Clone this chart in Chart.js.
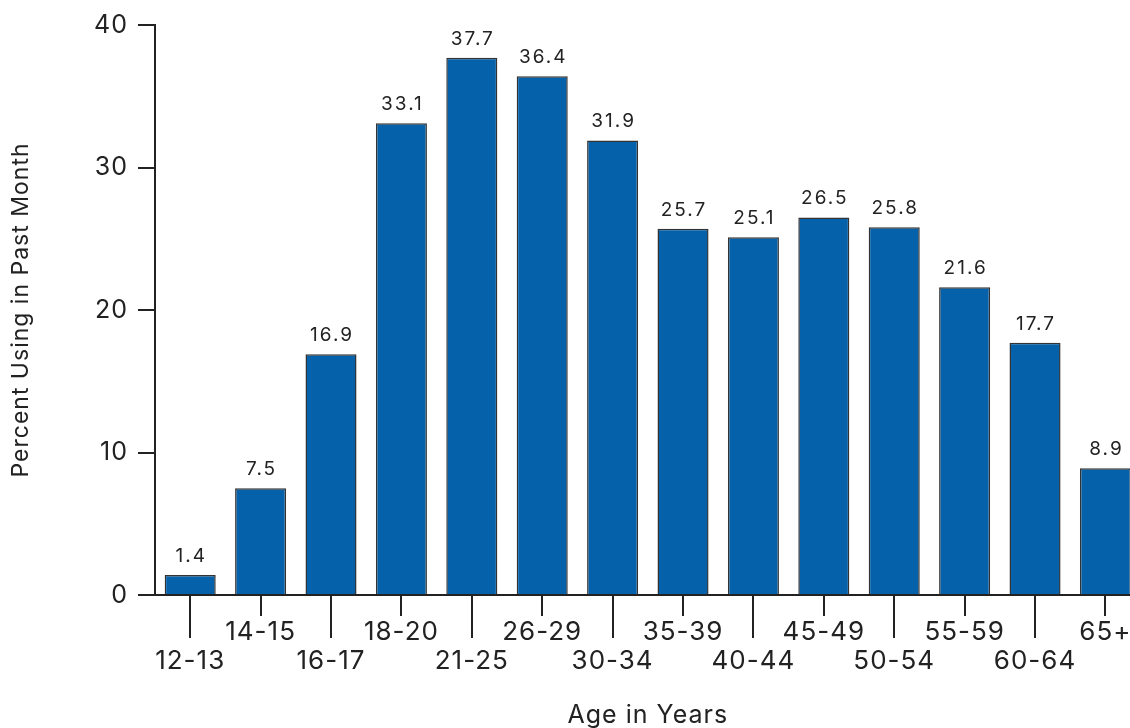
<!DOCTYPE html>
<html>
<head>
<meta charset="utf-8">
<script src="https://cdn.jsdelivr.net/npm/chart.js@4/dist/chart.umd.min.js"></script>
<style>
    html, body { margin: 0; padding: 0; background: #fff; overflow: hidden; }
    #ageChart { display: block; }
</style>
</head>
<body>
<canvas id="ageChart" width="1153" height="728"></canvas>
<script>
// age groups and percent using in past month
const ageGroups = ["12-13", "14-15", "16-17", "18-20", "21-25", "26-29", "30-34",
    "35-39", "40-44", "45-49", "50-54", "55-59", "60-64", "65+"];
const percentUsing = [1.4, 7.5, 16.9, 33.1, 37.7, 36.4, 31.9, 25.7, 25.1, 26.5, 25.8, 21.6, 17.7, 8.9];
const yTicks = [0, 10, 20, 30, 40];

const ink = "#222222";
const fontName = "Inter, 'Liberation Sans', Arial, sans-serif";

// slightly wider lettering, as in the original artwork
const spacing = {
    id: "spacing",
    beforeDraw(chart) {
        chart.ctx.letterSpacing = "1px";
    }
};

// staggered tick marks under the x axis
const staggerTicks = {
    id: "staggerTicks",
    afterDraw(chart) {
        const ctx = chart.ctx;
        const xScale = chart.scales.x;
        const bottom = chart.chartArea.bottom;
        ctx.save();
        ctx.strokeStyle = ink;
        ctx.lineWidth = 2;
        xScale.ticks.forEach((t, i) => {
            const x = Math.round(xScale.getPixelForTick(i));
            ctx.beginPath();
            ctx.moveTo(x, bottom);
            ctx.lineTo(x, bottom + (i % 2 === 0 ? 43 : 21));
            ctx.stroke();
        });
        ctx.restore();
    }
};

// value over each bar
const barValues = {
    id: "barValues",
    afterDatasetsDraw(chart) {
        const ctx = chart.ctx;
        const meta = chart.getDatasetMeta(0);
        ctx.save();
        ctx.font = "19px " + fontName;
        ctx.letterSpacing = "2px";
        ctx.fillStyle = ink;
        ctx.textAlign = "center";
        ctx.textBaseline = "alphabetic";
        meta.data.forEach((bar, i) => {
            ctx.fillText(percentUsing[i].toFixed(1), bar.x + 1, bar.y - 13);
        });
        ctx.restore();
    }
};

const ctx = document.getElementById("ageChart").getContext("2d");
new Chart(ctx, {
    type: "bar",
    data: {
        labels: ageGroups,
        datasets: [{
            data: percentUsing,
            backgroundColor: "#0561AA",
            borderColor: "#333333",
            borderWidth: 1.5,
            categoryPercentage: 1,
            barPercentage: 0.725
        }]
    },
    options: {
        responsive: false,
        animation: false,
        layout: { padding: { top: 22, left: 0, right: 0, bottom: 0 } },
        plugins: {
            legend: { display: false },
            tooltip: { enabled: false }
        },
        scales: {
            x: {
                offset: true,
                border: { display: true, color: ink, width: 2 },
                grid: { display: true, drawOnChartArea: false, drawTicks: false },
                ticks: {
                    autoSkip: false,
                    maxRotation: 0,
                    padding: 23,
                    color: ink,
                    font: { family: fontName, size: 26, lineHeight: 1.12 },
                    callback: (val, i) => (i % 2 === 0 ? ["", ageGroups[i]] : [ageGroups[i], ""])
                },
                title: {
                    display: true,
                    text: "Age in Years",
                    color: ink,
                    font: { family: fontName, size: 25, lineHeight: 1 },
                    padding: { top: 0, bottom: 0 }
                },
                afterFit(scale) { scale.height = 133; }
            },
            y: {
                min: 0,
                max: 40,
                border: { display: true, color: ink, width: 2 },
                grid: { drawOnChartArea: false, drawTicks: true, tickLength: 17, tickColor: ink, lineWidth: 2 },
                afterBuildTicks(scale) { scale.ticks = yTicks.map(v => ({ value: v })); },
                ticks: {
                    padding: 10,
                    color: ink,
                    font: { family: fontName, size: 25 }
                },
                title: {
                    display: true,
                    text: "Percent Using in Past Month",
                    color: ink,
                    font: { family: fontName, size: 23, lineHeight: 1 },
                    padding: { top: 10, bottom: 0 }
                },
                afterFit(scale) { scale.width = 155; }
            }
        }
    },
    plugins: [spacing, staggerTicks, barValues]
});
</script>
</body>
</html>
